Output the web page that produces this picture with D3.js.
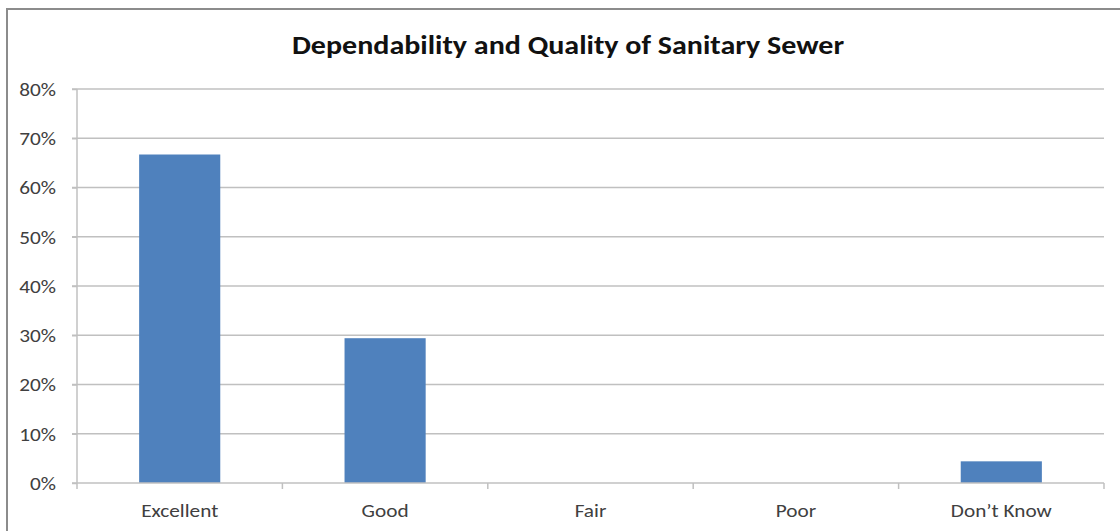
<!DOCTYPE html>
<html><head><meta charset="utf-8">
<script src="https://cdn.jsdelivr.net/npm/d3@7"></script>
<style>body{margin:0;background:#fff}svg{display:block}</style>
</head><body>
<svg id="c" width="1120" height="531"></svg>
<script>
const titleText = "Dependability and Quality of Sanitary Sewer";
const categories = ["Excellent", "Good", "Fair", "Poor", "Don\u2019t Know"];
const values = [0.667, 0.294, 0, 0, 0.044];
const yTicks = [0, 0.1, 0.2, 0.3, 0.4, 0.5, 0.6, 0.7, 0.8];

(function () {
const svg = d3.select("#c");
const font = "Carlito, 'Open Sans', 'Liberation Sans', sans-serif";
const sx = 1.12;
// outer chart border
svg.append("rect").attr("x", 7).attr("y", 9).attr("width", 1125).attr("height", 540)
  .attr("fill", "none").attr("stroke", "#8c8c8c").attr("stroke-width", 2);

const pLeft = 77, pRight = 1104, pTop = 89, pBottom = 483;
const x = d3.scaleBand().domain(categories).range([pLeft, pRight]).padding(0);
const y = d3.scaleLinear().domain([0, 0.8]).range([pBottom, pTop]);

// gridlines
svg.append("g").selectAll("line").data(yTicks.filter(d => d > 0)).join("line")
  .attr("x1", pLeft - 5).attr("x2", pRight).attr("y1", d => y(d)).attr("y2", d => y(d))
  .attr("stroke", "#c0c0c0").attr("stroke-width", 1.5);

// bars
const bw = x.bandwidth() * 0.395;
svg.append("g").selectAll("rect").data(values).join("rect")
  .attr("x", (d, i) => x(categories[i]) + x.bandwidth() / 2 - bw / 2)
  .attr("width", bw)
  .attr("y", d => y(d)).attr("height", d => pBottom - y(d))
  .attr("fill", "#4f81bd");

// y axis
const yAxis = d3.axisLeft(y).tickValues(yTicks).tickFormat(d3.format(".0%")).tickSize(5).tickPadding(15);
const gy = svg.append("g").attr("transform", `translate(${pLeft},0)`).call(yAxis);
gy.select(".domain").attr("stroke", "#c0c0c0").attr("stroke-width", 1.5).attr("d", `M0,${pTop}V${pBottom}`);
gy.selectAll(".tick line").attr("stroke", "#c0c0c0").attr("stroke-width", 1.5);
gy.selectAll("text").attr("font-family", font).attr("font-size", 19).attr("fill", "#404040")
  .attr("x", 0).attr("dy", "0.34em").attr("transform", `translate(-21,0) scale(${sx},1)`);

// x axis
const xAxis = d3.axisBottom(x).tickSize(0).tickPadding(21);
const gx = svg.append("g").attr("transform", `translate(0,${pBottom})`).call(xAxis);
gx.select(".domain").attr("stroke", "#c0c0c0").attr("stroke-width", 1.5).attr("d", `M${pLeft - 5},0H${pRight}`);
gx.selectAll(".tick line").remove();
gx.selectAll("text").attr("font-family", font).attr("font-size", 19).attr("fill", "#404040")
  .attr("transform", `scale(${sx},1)`);
// category boundary ticks
const bounds = categories.map(c => x(c)).concat([pRight]);
svg.append("g").selectAll("line").data(bounds).join("line")
  .attr("x1", d => d).attr("x2", d => d).attr("y1", pBottom).attr("y2", pBottom + 6)
  .attr("stroke", "#c0c0c0").attr("stroke-width", 1.5);

// title
svg.append("g").attr("transform", "translate(568,54)")
  .append("text").attr("x", 0).attr("y", 0).attr("text-anchor", "middle")
  .attr("transform", "scale(1.155,1)")
  .attr("font-family", font).attr("font-weight", "bold").attr("font-size", 26).attr("fill", "#111")
  .text(titleText);
})();
</script>
</body></html>
